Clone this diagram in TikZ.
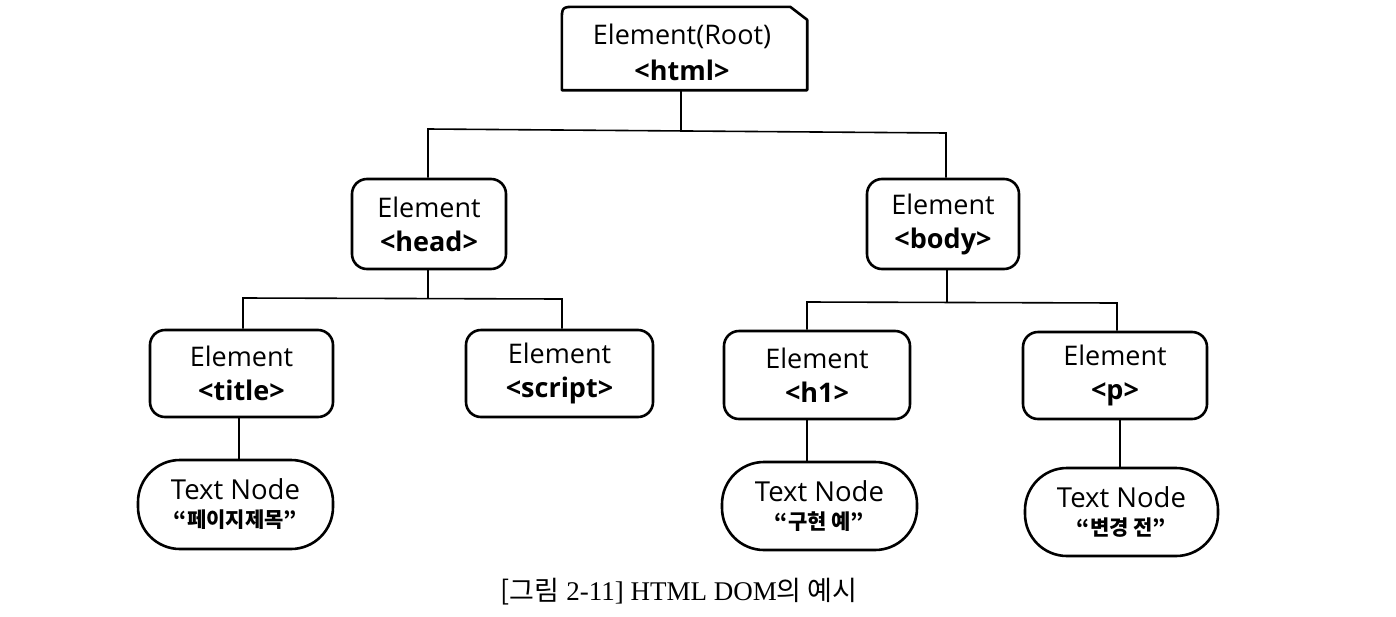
\documentclass[tikz,border=0pt]{standalone}
\usepackage{fontspec}
\setmainfont{Open Sans}
\newfontfamily\kr{Noto Sans CJK KR}
\newfontfamily\capser{Liberation Serif}
\usetikzlibrary{calc}
\begin{document}
\begin{tikzpicture}[x=1pt,y=-1pt,
  elembox/.style={draw,line width=2.6pt,rounded corners=15pt,inner sep=0pt,align=center,
    font=\fontsize{27}{34}\selectfont},
  textbox/.style={draw,line width=2.6pt,rounded corners=42pt,inner sep=0pt,align=center,
    font=\fontsize{27.5}{30}\selectfont},
  rootbox/.style={inner sep=0pt,align=center,font=\fontsize{27}{36}\selectfont},
  kline/.style={},
  conn/.style={line width=1.6pt}]
\useasboundingbox (0,0) rectangle (1396,616);

% root
\node[draw=none,minimum width=245pt,minimum height=83pt,inner sep=0pt] (root) at (684.5,48.5) {};
\node[rootbox] (rootlabel) at (682,52) {Element(Root)\\\textbf{<html>}};
\draw[line width=2.6pt,line join=round]
  (root.south west) -- ($(root.north west)+(0,15)$)
  .. controls (root.north west) .. ($(root.north west)+(15,0)$)
  -- ($(root.north east)+(-17,0)$) -- ($(root.north east)+(0,13)$)
  -- (root.south east) -- cycle;

% level 1
\node[elembox,minimum width=154pt,minimum height=90pt] (head) at (429,224) {Element\\\textbf{<head>}};
\node[elembox,minimum width=152pt,minimum height=90pt] (body) at (943,224) {Element\\\textbf{<body>}};

% level 2
\node[elembox,minimum width=183pt,minimum height=87pt] (title) at (241.5,373.5) {Element\\\textbf{<title>}};
\node[elembox,minimum width=187pt,minimum height=87pt] (script) at (559.5,373.5) {Element\\\textbf{<script>}};
\node[elembox,minimum width=186pt,minimum height=88pt] (h1) at (817,375) {Element\\\textbf{<h1>}};
\node[elembox,minimum width=184pt,minimum height=87pt] (p) at (1115,375.5) {Element\\\textbf{<p>}};

% text nodes
\node[textbox,minimum width=195pt,minimum height=89pt] (t1) at (235.5,504.5)
  {Text Node\\[-2pt]{\kr\bfseries\fontsize{21}{23}\selectfont “페이지제목”}};
\node[textbox,minimum width=195pt,minimum height=88pt] (t2) at (819.5,506)
  {Text Node\\[-2pt]{\kr\bfseries\fontsize{21}{23}\selectfont “구현 예”}};
\node[textbox,minimum width=193pt,minimum height=88pt] (t3) at (1121.5,512)
  {Text Node\\[-2pt]{\kr\bfseries\fontsize{21}{23}\selectfont “변경 전”}};

% connector junctions
\coordinate (j1) at (681,131);
\coordinate (b1l) at (428,129);
\coordinate (b1r) at (946,133);
\coordinate (j2) at (428,298);
\coordinate (b2l) at (243,298);
\coordinate (b2r) at (562,299);
\coordinate (j3) at (947,303);
\coordinate (b3l) at (807,302);
\coordinate (b3r) at (1117,303);

\draw[conn] (root.south -| j1) -- (j1);
\draw[conn] (head.north -| b1l) -- (b1l) -- (b1r) -- (body.north -| b1r);
\draw[conn] (head.south -| j2) -- (j2);
\draw[conn] (title.north -| b2l) -- (b2l) -- (b2r) -- (script.north -| b2r);
\draw[conn] (body.south -| j3) -- (j3);
\draw[conn] (h1.north -| b3l) -- (b3l) -- (b3r) -- (p.north -| b3r);
\draw[conn] (title.south -| 239,0) -- (t1.north -| 239,0);
\draw[conn] (h1.south -| 807,0) -- (t2.north -| 807,0);
\draw[conn] (p.south -| 1120,0) -- (t3.north -| 1120,0);

% caption
\node[font=\fontsize{27}{29}\selectfont] (cap) at (679,592)
  {{\kr[그림} {\capser 2-11] HTML DOM}{\kr 의 예시}};
\end{tikzpicture}
\end{document}
